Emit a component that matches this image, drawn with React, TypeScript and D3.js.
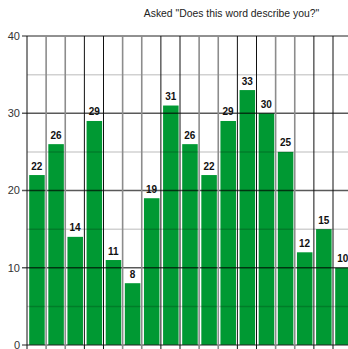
import React from "react";
import * as d3 from "d3";

const values = [22, 26, 14, 29, 11, 8, 19, 31, 26, 22, 29, 33, 30, 25, 12, 15, 10];
const yTicks = [0, 10, 20, 30, 40];
const yMinor = [5, 15, 25, 35];
const title = 'Asked "Does this word describe you?"';

export default function App() {
  const W = 348, H = 349;
  const left = 27, step = 19.125;
  const x = d3.scaleBand<number>()
    .domain(values.map((_, i) => i))
    .range([left, left + step * values.length])
    .padding(0);
  const y = d3.scaleLinear().domain([0, 40]).range([345, 36]);
  const bw = x.bandwidth();
  const lines = values.map((_, i) => x(i) as number);
  const font = "'Liberation Sans', Arial, sans-serif";
  return (
    <svg width={W} height={H} style={{ position: "absolute", left: 0, top: 0, background: "#fff" }}>
      <rect x={0} y={0} width={W} height={H} fill="#fff" />
      <text x={231.5} y={17} textAnchor="middle" fontFamily={font} fontSize={10.4} fill="#222">{title}</text>
      {values.map((v, i) => (
        <rect key={i} x={(x(i) as number) + 2.2} y={y(v)} width={bw - 3.6} height={y(0) - y(v)} fill="#009933" />
      ))}
      {yMinor.map((t) => (
        <line key={"m" + t} x1={left} x2={W} y1={y(t)} y2={y(t)} stroke="rgba(0,0,0,0.18)" strokeWidth={1.5} />
      ))}
      {yTicks.map((t) => (
        <line key={"M" + t} x1={left - 5} x2={W} y1={y(t)} y2={y(t)} stroke={t === 0 || t === 40 ? "#222" : "rgba(0,0,0,0.65)"} strokeWidth={t === 0 || t === 40 ? 1 : 1.5} />
      ))}
      {lines.map((lx, i) => {
        const dark = i % 4 === 0 || i % 4 === 3;
        return (
          <line key={"v" + i} x1={lx} x2={lx} y1={y(40)} y2={H} stroke={dark ? "#111" : "#8c8c8c"} strokeWidth={dark ? 1 : 1.6} />
        );
      })}
      {yTicks.map((t) => (
        <text key={"t" + t} x={20} y={y(t)} dy="0.35em" textAnchor="end" fontFamily={font} fontSize={11} fill="#333">{t}</text>
      ))}
      {values.map((v, i) => (
        <text key={"l" + i} x={(x(i) as number) + bw / 2 + 0.3} y={y(v) - 5.5} textAnchor="middle" fontFamily={font} fontSize={10} fontWeight="bold" fill="#111">{v}</text>
      ))}
    </svg>
  );
}
